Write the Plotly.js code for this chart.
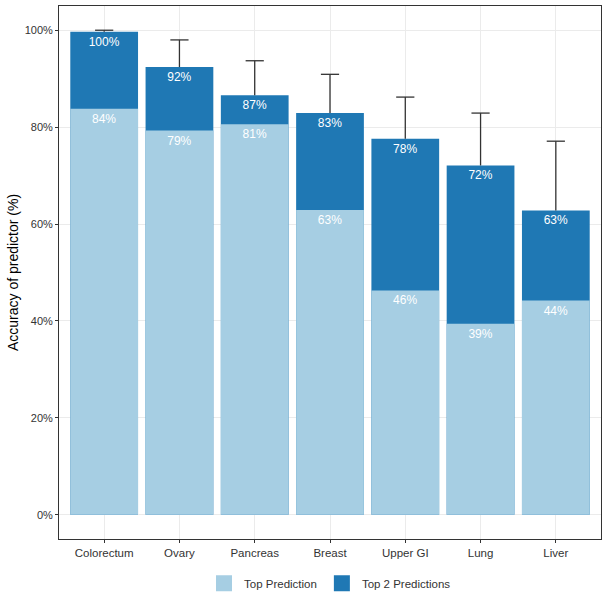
<!DOCTYPE html>
<html>
<head>
<meta charset="utf-8">
<script src="https://cdn.plot.ly/plotly-3.0.1.min.js"></script>
<style>html,body{margin:0;padding:0;background:#fff;}#chart{width:607px;height:599px;}</style>
</head>
<body>
<div id="chart"></div>
<script>
const categories = ["Colorectum", "Ovary", "Pancreas", "Breast", "Upper GI", "Lung", "Liver"];
const topPrediction = [83.8, 79.3, 80.6, 62.9, 46.3, 39.4, 44.2];
const top2Predictions = [99.7, 92.4, 86.6, 82.9, 77.6, 72.1, 62.8];
const top2Upper = [100, 98.0, 93.7, 90.9, 86.2, 82.9, 77.1];
const yTicks = [0, 20, 40, 60, 80, 100];
const seriesNames = ["Top Prediction", "Top 2 Predictions"];
const seriesColors = ["#A6CEE3", "#1F78B4"];

const FONT = "Liberation Sans, Arial, Helvetica, sans-serif";
const TEXT = "#333333";

const traceTop2 = {
  type: "bar",
  name: seriesNames[1],
  legendgroup: "t2",
  showlegend: false,
  x: categories,
  y: top2Predictions,
  width: 0.9,
  marker: {color: seriesColors[1], line: {width: 0}},
  texttemplate: "%{y:.0f}%",
  textposition: "inside",
  insidetextanchor: "end",
  textangle: 0,
  constraintext: "none",
  textfont: {family: FONT, size: 12, color: "#ffffff"},
  hoverinfo: "skip"
};

const traceTop = {
  type: "bar",
  name: seriesNames[0],
  legendgroup: "t1",
  showlegend: false,
  x: categories,
  y: topPrediction,
  width: 0.9,
  marker: {color: seriesColors[0], line: {width: 0}},
  texttemplate: "%{y:.0f}%",
  textposition: "inside",
  insidetextanchor: "end",
  textangle: 0,
  constraintext: "none",
  textfont: {family: FONT, size: 12, color: "#ffffff"},
  hoverinfo: "skip"
};

// Upper error bars: stem down to the Top 2 bar, with a cap at the upper value
const traceErr = {
  type: "scatter",
  mode: "markers",
  showlegend: false,
  x: categories,
  y: top2Upper,
  marker: {symbol: "line-ew", size: 13, color: "#333333", line: {color: "#333333", width: 1.3}},
  error_y: {
    type: "data",
    symmetric: false,
    array: top2Upper.map(() => 0),
    arrayminus: top2Upper.map((u, i) => u - top2Predictions[i]),
    color: "#333333",
    thickness: 1.3,
    width: 0
  },
  hoverinfo: "skip"
};

// Legend entries
const legendTraces = seriesNames.map((n, i) => ({
  type: "scatter",
  mode: "markers",
  name: n,
  legendgroup: i === 0 ? "t1" : "t2",
  x: [null],
  y: [null],
  marker: {symbol: "square", size: 18, color: seriesColors[i], line: {width: 0}},
  hoverinfo: "skip"
}));

const layout = {
  width: 607,
  height: 599,
  margin: {l: 59, r: 6, t: 6, b: 60, autoexpand: false},
  paper_bgcolor: "#ffffff",
  plot_bgcolor: "#ffffff",
  barmode: "overlay",
  font: {family: FONT, size: 11, color: TEXT},
  showlegend: true,
  legend: {
    orientation: "h",
    x: 0.5,
    xanchor: "center",
    y: -0.083,
    yanchor: "middle",
    font: {family: FONT, size: 11.5, color: TEXT},
    itemwidth: 30,
    itemsizing: "trace"
  },
  xaxis: {
    type: "category",
    range: [-0.6, 6.6],
    showgrid: true,
    gridcolor: "#EBEBEB",
    gridwidth: 1,
    showline: true,
    mirror: true,
    linecolor: "#333333",
    linewidth: 1,
    ticks: "outside",
    ticklen: 3,
    tickcolor: "#333333",
    tickwidth: 1,
    tickfont: {family: FONT, size: 11.5, color: TEXT},
    zeroline: false,
    fixedrange: true
  },
  yaxis: {
    range: [-5, 105],
    tickvals: yTicks,
    ticktext: yTicks.map(v => v + "%"),
    showgrid: true,
    gridcolor: "#EBEBEB",
    gridwidth: 1,
    showline: true,
    mirror: true,
    linecolor: "#333333",
    linewidth: 1,
    ticks: "outside",
    ticklen: 3,
    tickcolor: "#333333",
    tickwidth: 1,
    tickfont: {family: FONT, size: 11, color: TEXT},
    zeroline: false,
    title: {text: "Accuracy of predictor (%)", font: {family: FONT, size: 14, color: "#000"}, standoff: 2},
    fixedrange: true
  }
};

Plotly.newPlot("chart", [traceTop2, traceTop, traceErr].concat(legendTraces), layout, {displayModeBar: false, staticPlot: true});
</script>
</body>
</html>
